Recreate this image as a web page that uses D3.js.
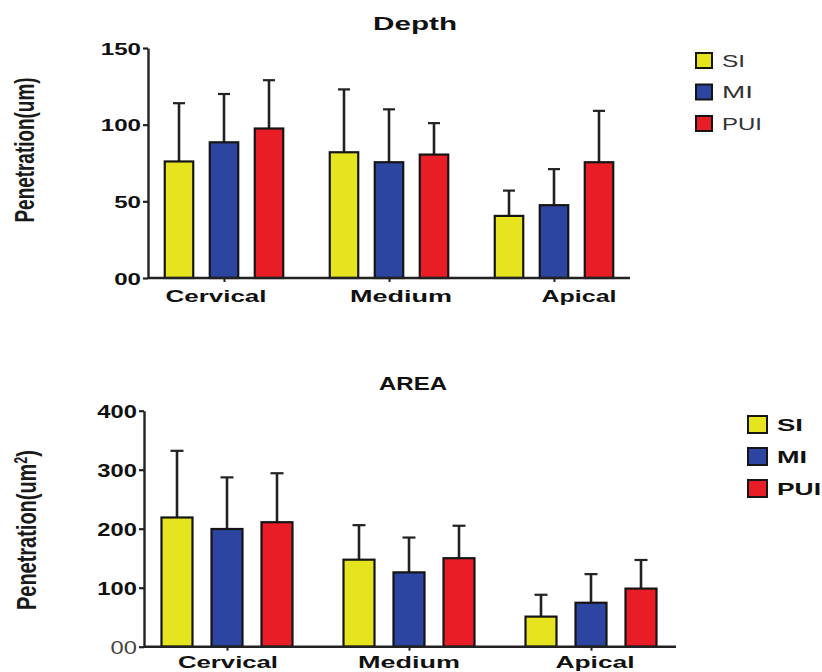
<!DOCTYPE html>
<html><head><meta charset="utf-8">
<script src="https://cdn.jsdelivr.net/npm/d3@7/dist/d3.min.js"></script>
<style>
html,body{margin:0;padding:0;background:#fff;}
svg{display:block;font-family:"Liberation Sans",Arial,sans-serif;}
</style></head>
<body><svg id="c" width="822" height="672"></svg>
<script>
const categories = ["Cervical", "Medium", "Apical"];
const series = ["SI", "MI", "PUI"];
const seriesColors = ["#e6e41f", "#2c45a0", "#e81d25"];

// Depth (um): means and SD (upper error bar)
const depthSI = [76, 82, 40.5];
const depthMI = [88.5, 75.5, 47.5];
const depthPUI = [97.5, 80.5, 75.5];
const depthSDSI = [38, 41, 16.5];
const depthSDMI = [31.5, 34.5, 23.5];
const depthSDPUI = [31.5, 20.5, 33.5];
const depthTicks = [0, 50, 100, 150];
const depthTickLabels = ["00", "50", "100", "150"];

// Area (um^2)
const areaSI = [219, 147.5, 51];
const areaMI = [199.5, 126, 74.5];
const areaPUI = [211, 150, 98.5];
const areaSDSI = [113, 58.5, 37];
const areaSDMI = [87.5, 59, 48.5];
const areaSDPUI = [83, 55, 48.5];
const areaTicks = [0, 100, 200, 300, 400];
const areaTickLabels = ["00", "100", "200", "300", "400"];

const svg = d3.select("#c");

function drawChart(cfg) {
  const g = svg.append("g");
  const y = d3.scaleLinear().domain(cfg.domain).range([cfg.y0, cfg.y1]);
  const x = d3.scalePoint().domain(categories).range(cfg.groupRange);
  const xi = d3.scaleBand().domain(series).range(cfg.innerRange)
    .paddingInner(cfg.pi).paddingOuter(cfg.pi / 2);

  const rows = [];
  cfg.means.forEach((arr, si) => arr.forEach((v, ci) => rows.push({
    cat: categories[ci], ser: series[si], v: v, sd: cfg.sds[si][ci], color: seriesColors[si]
  })));

  // error bars
  g.selectAll("line.err").data(rows).join("line")
    .attr("x1", d => x(d.cat) + xi(d.ser) + xi.bandwidth() / 2)
    .attr("x2", d => x(d.cat) + xi(d.ser) + xi.bandwidth() / 2)
    .attr("y1", d => y(d.v)).attr("y2", d => y(d.v + d.sd))
    .attr("stroke", "#222").attr("stroke-width", 2.6);
  g.selectAll("line.cap").data(rows).join("line")
    .attr("x1", d => x(d.cat) + xi(d.ser) + xi.bandwidth() / 2 - cfg.cap / 2)
    .attr("x2", d => x(d.cat) + xi(d.ser) + xi.bandwidth() / 2 + cfg.cap / 2)
    .attr("y1", d => y(d.v + d.sd)).attr("y2", d => y(d.v + d.sd))
    .attr("stroke", "#222").attr("stroke-width", 2.2);

  // bars
  g.selectAll("rect.bar").data(rows).join("rect")
    .attr("x", d => x(d.cat) + xi(d.ser))
    .attr("width", xi.bandwidth())
    .attr("y", d => y(d.v))
    .attr("height", d => y(0) - y(d.v))
    .attr("fill", d => d.color)
    .attr("stroke", "#151515").attr("stroke-width", 2.2);

  // y axis
  const ya = d3.axisLeft(y).tickValues(cfg.ticks)
    .tickFormat((d, i) => cfg.tickLabels[i]).tickSize(5).tickSizeOuter(0);
  const yg = g.append("g").attr("transform", `translate(${cfg.axisX},0)`).call(ya);
  yg.select(".domain").attr("stroke", "#222").attr("stroke-width", 2.4);
  yg.selectAll(".tick line").attr("stroke", "#222").attr("stroke-width", 2.2);
  yg.selectAll(".tick text")
    .attr("x", 0).attr("dy", "0.36em")
    .attr("transform", `translate(-7,0) scale(${cfg.tickStretch},1)`)
    .attr("font-size", cfg.tickSize).attr("font-weight", (d, i) => (i === 0 && !cfg.zeroBold) ? "normal" : "bold")
    .attr("fill", (d, i) => (i === 0 && !cfg.zeroBold) ? "#444" : "#111")
    .attr("font-family", '"Liberation Sans", Arial, sans-serif');

  // x baseline
  g.append("line").attr("x1", cfg.axisX).attr("x2", cfg.axisEnd)
    .attr("y1", y(0)).attr("y2", y(0)).attr("stroke", "#222").attr("stroke-width", 2.4);
  const xa = d3.axisBottom(x).tickSize(4).tickSizeOuter(0).tickFormat("");
  const xg = g.append("g").attr("transform", `translate(0,${y(0)})`).call(xa);
  xg.select(".domain").remove();
  xg.selectAll(".tick line").attr("stroke", "#222").attr("stroke-width", 2);

  // category labels
  g.selectAll("text.cat").data(categories).join("text")
    .attr("x", (d, i) => x(d) + cfg.catShift[i]).attr("y", cfg.catY)
    .attr("text-anchor", "middle").attr("font-size", cfg.catSize).attr("font-weight", "bold")
    .attr("textLength", (d, i) => cfg.catLen[i]).attr("lengthAdjust", "spacingAndGlyphs")
    .attr("fill", "#111").text(d => d);

  // title
  g.append("text").attr("x", cfg.titleX).attr("y", cfg.titleY)
    .attr("text-anchor", "middle").attr("font-size", cfg.titleSize).attr("font-weight", "bold")
    .attr("textLength", cfg.titleLen).attr("lengthAdjust", "spacingAndGlyphs")
    .attr("fill", "#111").text(cfg.title);

  // y label
  const yl = g.append("text")
    .attr("transform", `translate(${cfg.ylX},${cfg.ylY}) scale(1.5,1) rotate(-90)`)
    .attr("text-anchor", "middle").attr("font-size", 19).attr("font-weight", "bold")
    .attr("fill", "#1a1a1a").attr("textLength", cfg.ylLen).attr("lengthAdjust", "spacingAndGlyphs");
  cfg.ylParts.forEach(p => {
    const t = yl.append("tspan").text(p.t);
    if (p.sup) t.attr("baseline-shift", "super").attr("font-size", 12);
  });

  // legend
  const lg = g.append("g");
  series.forEach((s, i) => {
    lg.append("rect").attr("x", cfg.legX).attr("y", cfg.legY + i * cfg.legStep)
      .attr("width", cfg.legW).attr("height", cfg.legH)
      .attr("fill", seriesColors[i]).attr("stroke", "#151515").attr("stroke-width", 2);
    lg.append("text").attr("x", cfg.legX + cfg.legW + 10).attr("y", cfg.legY + i * cfg.legStep + cfg.legH / 2)
      .attr("dy", "0.36em").attr("font-size", cfg.legFont).attr("font-weight", cfg.legWeight)
      .attr("textLength", cfg.legLen[i]).attr("lengthAdjust", "spacingAndGlyphs")
      .attr("fill", cfg.legWeight === "bold" ? "#111" : "#333").text(s);
  });
}

drawChart({
  domain: [0, 150], y0: 278, y1: 48,
  groupRange: [224, 554], innerRange: [-67.5, 67.5], pi: 0.367, cap: 12,
  means: [depthSI, depthMI, depthPUI], sds: [depthSDSI, depthSDMI, depthSDPUI],
  ticks: depthTicks, tickLabels: depthTickLabels, tickSize: 17, tickStretch: 1.42, zeroBold: true,
  axisX: 148, axisEnd: 630,
  catY: 302, catSize: 17, catLen: [101, 102, 75], catShift: [-8, 12, 25],
  title: "Depth", titleX: 415, titleY: 30, titleSize: 18, titleLen: 84,
  ylX: 34, ylY: 150, ylLen: 145, ylParts: [{t: "Penetration(um)"}],
  legX: 696, legY: 53, legStep: 31.5, legW: 16, legH: 15, legFont: 17, legWeight: "normal",
  legLen: [23, 31, 40]
});

drawChart({
  domain: [0, 400], y0: 646.7, y1: 410.7,
  groupRange: [227, 591], innerRange: [-75, 75], pi: 0.38, cap: 13,
  means: [areaSI, areaMI, areaPUI], sds: [areaSDSI, areaSDMI, areaSDPUI],
  ticks: areaTicks, tickLabels: areaTickLabels, tickSize: 18, tickStretch: 1.32, zeroBold: false,
  axisX: 144, axisEnd: 676,
  catY: 668, catSize: 16, catLen: [100, 102, 79], catShift: [1, 0, 4],
  title: "AREA", titleX: 413, titleY: 390, titleSize: 19, titleLen: 68,
  ylX: 36, ylY: 530, ylLen: 160, ylParts: [{t: "Penetration(um"}, {t: "2", sup: true}, {t: ")"}],
  legX: 748, legY: 416, legStep: 32, legW: 19, legH: 17, legFont: 17, legWeight: "bold",
  legLen: [26, 30, 44]
});
</script></body></html>
